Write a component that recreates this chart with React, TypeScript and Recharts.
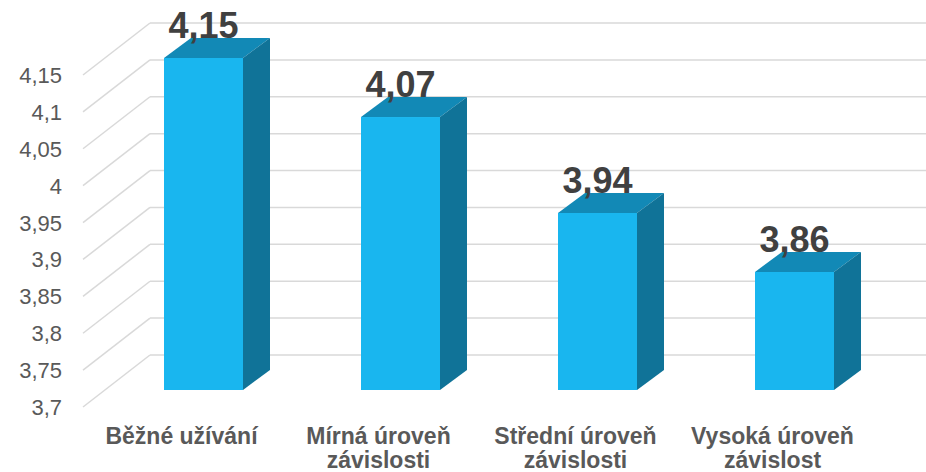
import { BarChart, Bar, XAxis, YAxis, CartesianGrid, LabelList } from 'recharts'

const categories = [
  ['Běžné užívání'],
  ['Mírná úroveň', 'závislosti'],
  ['Střední úroveň', 'závislosti'],
  ['Vysoká úroveň', 'závislost'],
]
const values = [4.15, 4.07, 3.94, 3.86]
const yTicks = [3.7, 3.75, 3.8, 3.85, 3.9, 3.95, 4, 4.05, 4.1, 4.15]

const data = categories.map((lines, i) => ({ name: lines.join('\n'), value: values[i] }))

// 3D offsets: bar depth, and from bar front plane to the back wall / front edge
const DEPTH_X = 27
const DEPTH_Y = 20
const BACK_X = 45
const BACK_Y = 35
const FRONT_X = 22
const FRONT_Y = 17

if (typeof document !== 'undefined') document.body.style.margin = '0'

const fmt = (v: number) => String(Number(v.toFixed(2))).replace('.', ',')

// eslint-disable-next-line @typescript-eslint/no-explicit-any
function Bar3D({ x, y, width, height }: any) {
  const r = x + width
  const b = y + height
  return (
    <g>
      <rect x={x} y={y} width={width} height={height} fill="#19B6EF" />
      <polygon
        points={`${x},${y} ${x + DEPTH_X},${y - DEPTH_Y} ${r + DEPTH_X},${y - DEPTH_Y} ${r},${y}`}
        fill="#1289B6"
      />
      <polygon
        points={`${r},${y} ${r + DEPTH_X},${y - DEPTH_Y} ${r + DEPTH_X},${b - DEPTH_Y} ${r},${b}`}
        fill="#107398"
      />
    </g>
  )
}

// eslint-disable-next-line @typescript-eslint/no-explicit-any
function gridLine(p: any) {
  const { x1, x2, y1, index } = p
  return (
    <g key={`g-${index}`}>
      <line x1={x1 - FRONT_X} y1={y1 + FRONT_Y} x2={x1 + BACK_X} y2={y1 - BACK_Y} stroke="#D9D9D9" strokeWidth={1.5} />
      <line x1={x1 + BACK_X} y1={y1 - BACK_Y} x2={x2 + BACK_X + 20} y2={y1 - BACK_Y} stroke="#D9D9D9" strokeWidth={1.5} />
    </g>
  )
}

// eslint-disable-next-line @typescript-eslint/no-explicit-any
function YTick({ x, y, payload }: any) {
  return (
    <text x={x - 35} y={y + FRONT_Y + 8} textAnchor="end" fontSize={22} fill="#595959" fontFamily="Liberation Sans, Arial, sans-serif">
      {fmt(payload.value)}
    </text>
  )
}

// eslint-disable-next-line @typescript-eslint/no-explicit-any
function XTick({ x, y, payload }: any) {
  const lines = String(payload.value).split('\n')
  return (
    <text textAnchor="middle" fontSize={23} fontWeight="bold" fill="#595959" fontFamily="Liberation Sans, Arial, sans-serif">
      {lines.map((l, i) => (
        <tspan key={i} x={x - FRONT_X} y={y + 46 + i * 24}>
          {l}
        </tspan>
      ))}
    </text>
  )
}

// eslint-disable-next-line @typescript-eslint/no-explicit-any
function ValueLabel({ x, y, width, value }: any) {
  return (
    <text x={x + width / 2} y={y - 20} textAnchor="middle" fontSize={36} fontWeight="bold" fill="#404040" fontFamily="Liberation Sans, Arial, sans-serif">
      {fmt(value)}
    </text>
  )
}

export default function App() {
  return (
    <div style={{ width: 926, height: 472, background: '#fff' }}>
      <BarChart width={926} height={472} data={data} margin={{ top: 58, right: 33, bottom: 0, left: 0 }}>
        <CartesianGrid vertical={false} horizontal={gridLine} />
        <XAxis dataKey="name" axisLine={false} tickLine={false} height={82} tick={<XTick />} interval={0} />
        <YAxis domain={[3.7, 4.15]} ticks={yTicks} axisLine={false} tickLine={false} width={105} tick={<YTick />} />
        <Bar dataKey="value" barSize={79} shape={<Bar3D />} isAnimationActive={false}>
          <LabelList dataKey="value" content={<ValueLabel />} />
        </Bar>
      </BarChart>
    </div>
  )
}
